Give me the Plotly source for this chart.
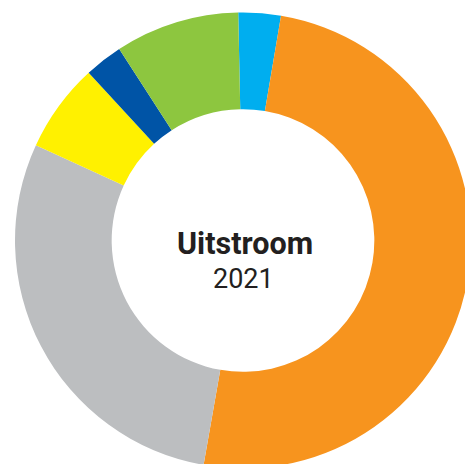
import plotly.graph_objects as go

# Data
categories = ["Categorie A", "Categorie B", "Categorie C", "Categorie D", "Categorie E", "Categorie F"]
values = [3.0, 50.1, 29.1, 6.3, 2.7, 8.8]
colors = ["#00AEEF", "#F7941E", "#BCBEC0", "#FFF100", "#0054A6", "#8DC63F"]
title_text = "Uitstroom"
year_text = "2021"

W, H = 472, 470
cx, cy, R = 243, 240.5, 228

fig = go.Figure(
    go.Pie(
        labels=categories,
        values=values,
        marker=dict(colors=colors, line=dict(width=0)),
        hole=0.576,
        sort=False,
        direction="clockwise",
        rotation=-1.2,
        textinfo="none",
        hoverinfo="label+percent",
        showlegend=False,
        domain=dict(
            x=[(cx - R) / W, (cx + R) / W],
            y=[(H - cy - R) / H, (H - cy + R) / H],
        ),
    )
)

fig.add_annotation(
    text="<b>" + title_text + "</b>", x=244.5 / W, y=1 - 243 / H,
    xref="paper", yref="paper", showarrow=False, xanchor="center", yanchor="middle",
    font=dict(family="Roboto", size=30.5, color="#231F20"),
)
fig.add_annotation(
    text=year_text, x=244 / W, y=1 - 278.5 / H,
    xref="paper", yref="paper", showarrow=False, xanchor="center", yanchor="middle",
    font=dict(family="Roboto", size=27, color="#231F20"),
)

fig.update_layout(
    width=W, height=H,
    margin=dict(l=0, r=0, t=0, b=0),
    paper_bgcolor="white", plot_bgcolor="white",
)

fig.write_html(
    "out.html",
    config={"displayModeBar": False},
    post_script="document.body.style.margin='0';document.body.style.overflow='hidden';",
)
